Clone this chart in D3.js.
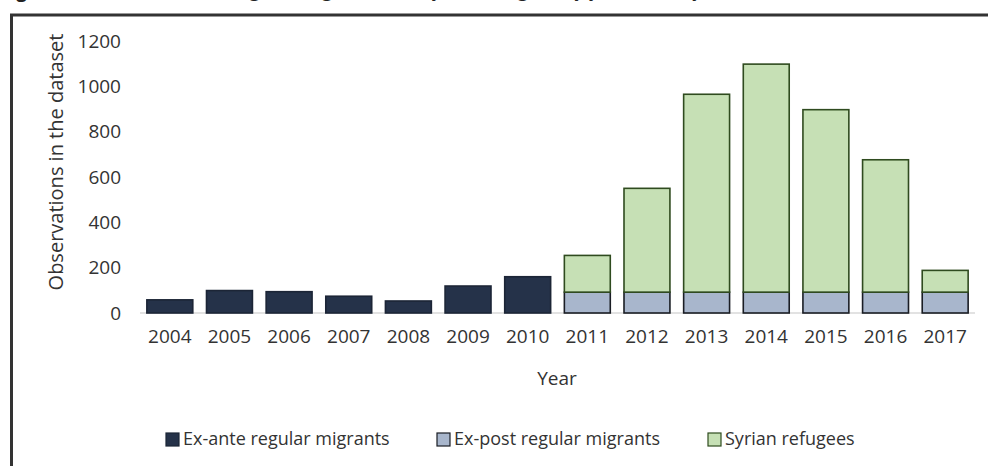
<!DOCTYPE html>
<html>
<head>
<meta charset="utf-8">
<script src="https://cdn.jsdelivr.net/npm/d3@7"></script>
<style>
  body { margin: 0; background: #fff; }
  text { font-family: "Open Sans", sans-serif; fill: #333; }
</style>
</head>
<body>
<script>
var WIDTH = 988;
var HEIGHT = 466;

// data
var years = ["2004", "2005", "2006", "2007", "2008", "2009", "2010",
             "2011", "2012", "2013", "2014", "2015", "2016", "2017"];
var exAnte = [58, 99, 94, 74, 53, 119, 160, 0, 0, 0, 0, 0, 0, 0];
var exPost = [0, 0, 0, 0, 0, 0, 0, 92, 92, 92, 92, 92, 92, 92];
var syrian = [0, 0, 0, 0, 0, 0, 0, 162, 458, 873, 1006, 805, 584, 96];
var yTicks = [0, 200, 400, 600, 800, 1000, 1200];

var seriesKeys = ["exAnte", "exPost", "syrian"];
var seriesNames = ["Ex-ante regular migrants", "Ex-post regular migrants", "Syrian refugees"];
var fills = { exAnte: "#253249", exPost: "#a8b6cc", syrian: "#c6e0b5" };
var strokes = { exAnte: "#1c2536", exPost: "#1a1d24", syrian: "#2f4b1f" };

var rows = years.map(function (y, i) {
  return { year: y, exAnte: exAnte[i], exPost: exPost[i], syrian: syrian[i] };
});

var svg = d3.select("body")
  .append("svg")
  .attr("width", WIDTH)
  .attr("height", HEIGHT);

// caption, cut off by the top of the picture as in the scan
svg.append("text")
  .attr("x", 0)
  .attr("y", -3)
  .style("font-size", "19px")
  .style("fill", "#222")
  .html("<tspan font-weight='bold'>Figure 2:</tspan> Observations of regular migrants and Syrian refugees by year of entry, 2004–2017");

// frame
svg.append("rect")
  .attr("x", 11.5)
  .attr("y", 15)
  .attr("width", WIDTH + 20)
  .attr("height", HEIGHT + 20)
  .attr("fill", "none")
  .attr("stroke", "#333")
  .attr("stroke-width", 3);

var x = d3.scaleBand()
  .domain(years)
  .range([140, 975])
  .paddingInner(0.23)
  .paddingOuter(0.115);

var y = d3.scaleLinear()
  .domain([0, 1200])
  .range([313, 41]);

// baseline
svg.append("line")
  .attr("x1", 140)
  .attr("x2", 975)
  .attr("y1", y(0))
  .attr("y2", y(0))
  .attr("stroke", "#d9d9d9")
  .attr("stroke-width", 1.5);

var stack = d3.stack().keys(seriesKeys)(rows);

svg.append("g")
  .selectAll("g")
  .data(stack)
  .enter()
  .append("g")
  .attr("fill", function (d) { return fills[d.key]; })
  .attr("stroke", function (d) { return strokes[d.key]; })
  .selectAll("rect")
  .data(function (d) { return d.filter(function (p) { return p[1] > p[0]; }); })
  .enter()
  .append("rect")
  .attr("x", function (d) { return x(d.data.year); })
  .attr("y", function (d) { return y(d[1]); })
  .attr("width", x.bandwidth())
  .attr("height", function (d) { return y(d[0]) - y(d[1]); })
  .attr("stroke-width", 1.6);

// y axis labels
var yAxis = svg.append("g")
  .attr("transform", "translate(121,0)")
  .call(d3.axisLeft(y).tickValues(yTicks).tickFormat(d3.format("d")).tickSize(0).tickPadding(0));
yAxis.select(".domain").remove();
yAxis.selectAll("text")
  .style("font-size", "19px")
  .style("font-family", "'Open Sans', sans-serif")
  .attr("fill", "#333");

// x axis labels
var xAxis = svg.append("g")
  .attr("transform", "translate(0," + y(0) + ")")
  .call(d3.axisBottom(x).tickSize(0).tickPadding(17));
xAxis.select(".domain").remove();
xAxis.selectAll("text")
  .style("font-size", "19px")
  .style("font-family", "'Open Sans', sans-serif")
  .attr("fill", "#333");

// axis titles
svg.append("text")
  .attr("x", 557)
  .attr("y", 385)
  .attr("text-anchor", "middle")
  .style("font-size", "19px")
  .text("Year");

svg.append("text")
  .attr("transform", "translate(63,162) rotate(-90)")
  .attr("text-anchor", "middle")
  .style("font-size", "20px")
  .text("Observations in the dataset");

// legend
var legendX = [166, 437, 708];
var legend = svg.append("g")
  .selectAll("g")
  .data(seriesKeys)
  .enter()
  .append("g")
  .attr("transform", function (d, i) { return "translate(" + legendX[i] + ",433)"; });

legend.append("rect")
  .attr("width", 13)
  .attr("height", 13)
  .attr("fill", function (d) { return fills[d]; })
  .attr("stroke", function (d) { return strokes[d]; })
  .attr("stroke-width", 1.2);

legend.append("text")
  .attr("x", 17)
  .attr("y", 12)
  .style("font-size", "18px")
  .text(function (d, i) { return seriesNames[i]; });
</script>
</body>
</html>
